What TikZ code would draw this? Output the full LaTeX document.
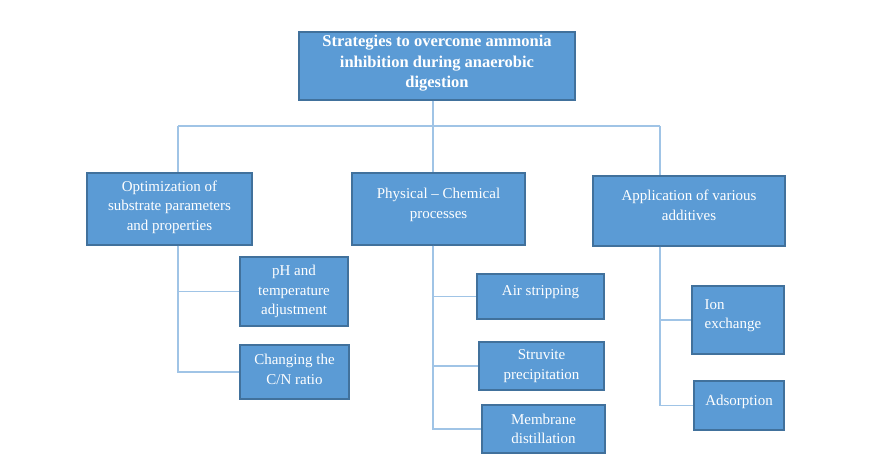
\documentclass[tikz,border=0pt]{standalone}
\usepackage{fontspec}
\setmainfont{Liberation Serif}
\usepackage{xcolor}
\usepackage{tikz}
\usetikzlibrary{calc}
\definecolor{boxfill}{RGB}{91,155,213}
\definecolor{boxline}{RGB}{65,113,156}
\definecolor{linkcol}{RGB}{160,196,230}

\begin{document}
\begin{tikzpicture}[x=1pt, y=-1pt,
    box/.style={draw=boxline, line width=1.3pt, fill=boxfill, text=white, align=center, inner sep=2pt,
        font=\fontsize{15}{19.5}\selectfont},
    link/.style={draw=linkcol, line width=1.3pt}]
\useasboundingbox (0,0) rectangle (891,471);
\node[box, minimum width=276pt, minimum height=68pt, font=\bfseries\fontsize{16.5}{20.5}\selectfont] (top) at (437,66)
    {Strategies to overcome ammonia\\inhibition during anaerobic\\digestion\\[-12pt]};
\node[box, minimum width=165pt, minimum height=72pt] (opt) at (169.5,209)
    {Optimization of\\substrate parameters\\and properties\\[-12pt]};
\node[box, minimum width=173pt, minimum height=72pt] (phys) at (438.5,209)
    {Physical -- Chemical\\processes\\[-8pt]};
\node[box, minimum width=192pt, minimum height=70pt] (add) at (689,211)
    {Application of various\\additives\\[-8pt]};
\node[box, minimum width=108pt, minimum height=69pt] (ph) at (294,291.5)
    {pH and\\temperature\\adjustment};
\node[box, minimum width=109pt, minimum height=54pt] (cn) at (294.5,372)
    {Changing the\\C/N ratio\\[-14pt]};
\node[box, minimum width=127pt, minimum height=45pt] (air) at (540.5,296.5)
    {Air stripping\\[-8pt]};
\node[box, minimum width=125pt, minimum height=48pt] (struv) at (541.5,366)
    {Struvite\\precipitation};
\node[box, minimum width=123pt, minimum height=48pt] (memb) at (543.5,429)
    {Membrane\\distillation};
\node[box, minimum width=92pt, minimum height=68pt, align=left] (ion) at (738,320)
    {Ion\phantom{mmmm}\\exchange\\[-8pt]};
\node[box, minimum width=90pt, minimum height=49pt] (ads) at (739,405.5)
    {Adsorption\\[-10pt]};
\coordinate (ltrunk) at (178,126);
\coordinate (mtrunk) at (433,126);
\coordinate (rtrunk) at (660,126);
\draw[link] (mtrunk |- top.south) -- (mtrunk);
\draw[link] (ltrunk) -- (rtrunk);
\draw[link] (ltrunk) -- (ltrunk |- opt.north);
\draw[link] (mtrunk) -- (mtrunk |- phys.north);
\draw[link] (rtrunk) -- (rtrunk |- add.north);
\draw[link] (ltrunk |- opt.south) |- (ph.west);
\draw[link] (ltrunk |- opt.south) |- (cn.west);
\draw[link] (mtrunk |- phys.south) |- (air.west);
\draw[link] (mtrunk |- phys.south) |- (struv.west);
\draw[link] (mtrunk |- phys.south) |- (memb.west);
\draw[link] (rtrunk |- add.south) |- (ion.west);
\draw[link] (rtrunk |- add.south) |- (ads.west);
\end{tikzpicture}
\end{document}
